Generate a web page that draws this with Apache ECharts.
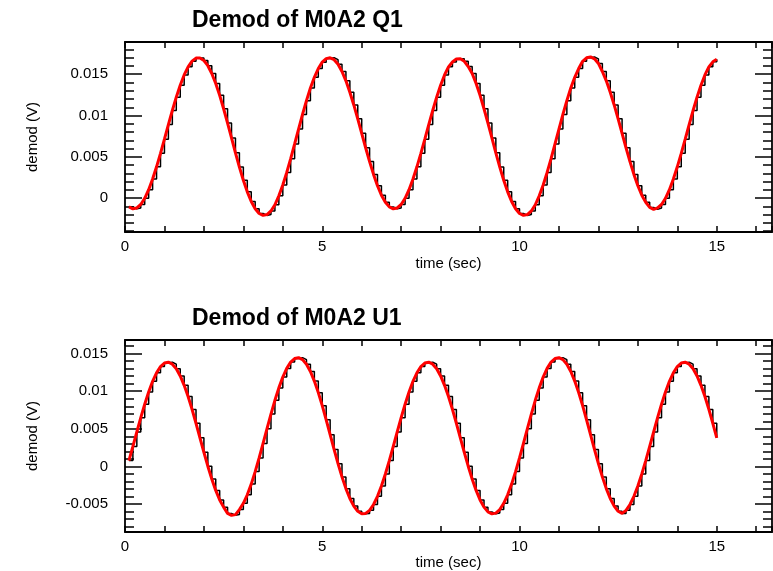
<!DOCTYPE html>
<html><head><meta charset="utf-8">
<script src="https://cdn.jsdelivr.net/npm/echarts@6/dist/echarts.min.js"></script>
<style>html,body{margin:0;padding:0;background:#fff}#c{width:773px;height:571px}</style>
</head><body><div id="c"></div>
<script>
// sample times (s)
const TIME = [
0.1,0.2,0.3,0.4,0.5,0.6,0.7,0.8,0.9,1.0,1.1,1.2,1.3,1.4,1.5,1.6,1.7,1.8,1.9,2.0,
2.1,2.2,2.3,2.4,2.5,2.6,2.7,2.8,2.9,3.0,3.1,3.2,3.3,3.4,3.5,3.6,3.7,3.8,3.9,4.0,
4.1,4.2,4.3,4.4,4.5,4.6,4.7,4.8,4.9,5.0,5.1,5.2,5.3,5.4,5.5,5.6,5.7,5.8,5.9,6.0,
6.1,6.2,6.3,6.4,6.5,6.6,6.7,6.8,6.9,7.0,7.1,7.2,7.3,7.4,7.5,7.6,7.7,7.8,7.9,8.0,
8.1,8.2,8.3,8.4,8.5,8.6,8.7,8.8,8.9,9.0,9.1,9.2,9.3,9.4,9.5,9.6,9.7,9.8,9.9,10.0,
10.1,10.2,10.3,10.4,10.5,10.6,10.7,10.8,10.9,11.0,11.1,11.2,11.3,11.4,11.5,11.6,11.7,11.8,11.9,12.0,
12.1,12.2,12.3,12.4,12.5,12.6,12.7,12.8,12.9,13.0,13.1,13.2,13.3,13.4,13.5,13.6,13.7,13.8,13.9,14.0,
14.1,14.2,14.3,14.4,14.5,14.6,14.7,14.8,14.9,15.0
];
// Demod of M0A2 Q1 (V)
const Q1 = [
-0.00106,-0.00129,-0.00119,-0.00077,-0.00002,0.00102,0.00231,0.00379,0.00542,0.00714,
0.00890,0.01061,0.01222,0.01367,0.01491,0.01589,0.01658,0.01695,0.01697,0.01666,
0.01603,0.01509,0.01388,0.01244,0.01082,0.00908,0.00729,0.00548,0.00376,0.00217,
0.00076,-0.00040,-0.00128,-0.00186,-0.00209,-0.00199,-0.00155,-0.00080,0.00028,0.00159,
0.00311,0.00478,0.00656,0.00836,0.01013,0.01180,0.01333,0.01463,0.01569,0.01646,
0.01689,0.01699,0.01676,0.01621,0.01533,0.01420,0.01282,0.01128,0.00960,0.00785,
0.00610,0.00442,0.00287,0.00150,0.00036,-0.00050,
-0.00106,-0.00129,-0.00119,-0.00077,-0.00002,0.00102,0.00231,0.00379,0.00542,0.00714,
0.00890,0.01061,0.01222,0.01367,0.01491,0.01589,0.01648,0.01685,0.01687,0.01656,
0.01593,0.01509,0.01388,0.01244,0.01082,0.00908,0.00729,0.00548,0.00376,0.00217,
0.00076,-0.00040,-0.00128,-0.00186,-0.00209,-0.00199,-0.00155,-0.00080,0.00028,0.00159,
0.00311,0.00478,0.00656,0.00836,0.01013,0.01180,0.01333,0.01463,0.01569,0.01656,
0.01699,0.01709,0.01686,0.01631,0.01533,0.01420,0.01282,0.01128,0.00960,0.00785,
0.00610,0.00442,0.00287,0.00150,0.00036,-0.00050,
-0.00112,-0.00136,-0.00119,-0.00077,-0.00002,0.00102,0.00231,0.00379,0.00542,0.00714,
0.00890,0.01061,0.01222,0.01367,0.01491,0.01589,0.01650,0.01680
];
// Demod of M0A2 U1 (V)
const U1 = [
0.00078,0.00266,0.00458,0.00648,0.00827,0.00990,0.01131,0.01245,0.01327,0.01374,
0.01385,0.01359,0.01299,0.01203,0.01078,0.00929,0.00758,0.00574,0.00381,0.00189,
0.00004,-0.00166,-0.00318,-0.00444,-0.00540,-0.00623,-0.00649,-0.00639,-0.00572,-0.00489,
-0.00376,-0.00234,-0.00068,0.00114,0.00306,0.00502,0.00696,0.00879,0.01044,0.01187,
0.01303,0.01387,0.01434,0.01445,0.01419,0.01357,0.01261,0.01134,0.00981,0.00808,
0.00620,0.00423,0.00227,0.00038,-0.00138,-0.00294,-0.00426,-0.00526,-0.00595,-0.00627,
-0.00623,-0.00582,-0.00505,-0.00396,-0.00260,-0.00100,
0.00078,0.00266,0.00458,0.00648,0.00827,0.00990,0.01131,0.01245,0.01327,0.01374,
0.01385,0.01359,0.01299,0.01203,0.01078,0.00929,0.00758,0.00574,0.00381,0.00189,
0.00004,-0.00166,-0.00318,-0.00444,-0.00540,-0.00603,-0.00629,-0.00619,-0.00572,-0.00489,
-0.00376,-0.00234,-0.00068,0.00114,0.00306,0.00502,0.00696,0.00879,0.01044,0.01187,
0.01303,0.01387,0.01434,0.01445,0.01419,0.01357,0.01261,0.01134,0.00981,0.00808,
0.00620,0.00423,0.00227,0.00038,-0.00138,-0.00294,-0.00426,-0.00526,-0.00595,
-0.00623,-0.00582,-0.00505,-0.00396,-0.00260,-0.00100,
0.00078,0.00266,0.00458,0.00648,0.00827,0.00990,0.01131,0.01245,0.01327,0.01374,
0.01385,0.01359,0.01299,0.01203,0.01078,0.00929,0.00758,0.00574,0.00381
];
const TITLES = ['Demod of M0A2 Q1', 'Demod of M0A2 U1'];
const X_NAME = 'time (sec)';
const Y_NAME = 'demod (V)';
const X_RANGE = [0, 16.4];
const X_LABELS = [0, 5, 10, 15];
const Y_RANGES = [[-0.0041, 0.0189], [-0.0087, 0.0168]];

const FONT = "'Liberation Sans', Helvetica, Arial, sans-serif";
const BLACK = '#000';
const lineW = 1.8;

function pairs(ys) { return TIME.map((t, i) => [t, ys[i]]); }

function xAxes(g, nameGap) {
  const base = {
    type: 'value', gridIndex: g, min: X_RANGE[0], max: X_RANGE[1], interval: 1,
    axisLine: { onZero: false, lineStyle: { color: BLACK, width: lineW } },
    axisTick: { inside: true, length: 6, lineStyle: { color: BLACK, width: 1.5 } },
    splitLine: { show: false }
  };
  return [
    Object.assign({}, base, {
      position: 'bottom',
      axisLabel: { color: BLACK, fontSize: 15, fontFamily: FONT, margin: 7,
        formatter: v => X_LABELS.includes(v) ? String(v) : '' },
      name: X_NAME, nameLocation: 'middle', nameGap: nameGap,
      nameTextStyle: { color: BLACK, fontSize: 15, fontFamily: FONT }
    }),
    Object.assign({}, base, { position: 'top', axisLabel: { show: false } })
  ];
}
function yAxes(g, range) {
  const base = {
    type: 'value', gridIndex: g, min: range[0], max: range[1], splitNumber: 5,
    axisLine: { onZero: false, lineStyle: { color: BLACK, width: lineW } },
    axisTick: { inside: true, length: 17, lineStyle: { color: BLACK, width: 1.5 } },
    minorTick: { show: true, splitNumber: 5, length: 9, lineStyle: { color: BLACK, width: 1.5 } },
    splitLine: { show: false }, minorSplitLine: { show: false }
  };
  return [
    Object.assign({}, base, {
      position: 'left',
      axisLabel: { color: BLACK, fontSize: 15, fontFamily: FONT, margin: 17,
        showMinLabel: false, showMaxLabel: false },
      name: Y_NAME, nameLocation: 'middle', nameGap: 85, nameRotate: 90,
      nameTextStyle: { color: BLACK, fontSize: 15, fontFamily: FONT }
    }),
    Object.assign({}, base, { position: 'right', axisLabel: { show: false } })
  ];
}
function seriesFor(g, ys) {
  return [
    { type: 'line', xAxisIndex: g * 2, yAxisIndex: g * 2, data: pairs(ys), step: 'end',
      symbol: 'none', lineStyle: { color: BLACK, width: 1.5 }, z: 2, animation: false },
    { type: 'line', xAxisIndex: g * 2, yAxisIndex: g * 2, data: pairs(ys),
      symbol: 'none', lineStyle: { color: '#ff0000', width: 3 }, z: 3, animation: false }
  ];
}

const chart = echarts.init(document.getElementById('c'), null, { renderer: 'canvas' });
chart.setOption({
  animation: false,
  backgroundColor: '#fff',
  title: [
    { text: TITLES[0], left: 192, top: 9, padding: 0,
      textStyle: { fontSize: 23, fontWeight: 'bold', fontFamily: FONT, color: BLACK } },
    { text: TITLES[1], left: 192, top: 307, padding: 0,
      textStyle: { fontSize: 23, fontWeight: 'bold', fontFamily: FONT, color: BLACK } }
  ],
  grid: [
    { left: 125, right: 1, top: 42, height: 190, outerBoundsMode: 'none' },
    { left: 125, right: 1, top: 340, height: 192, outerBoundsMode: 'none' }
  ],
  xAxis: [...xAxes(0, 24), ...xAxes(1, 20)],
  yAxis: [...yAxes(0, Y_RANGES[0]), ...yAxes(1, Y_RANGES[1])],
  series: [...seriesFor(0, Q1), ...seriesFor(1, U1)]
});
</script>
</body></html>
